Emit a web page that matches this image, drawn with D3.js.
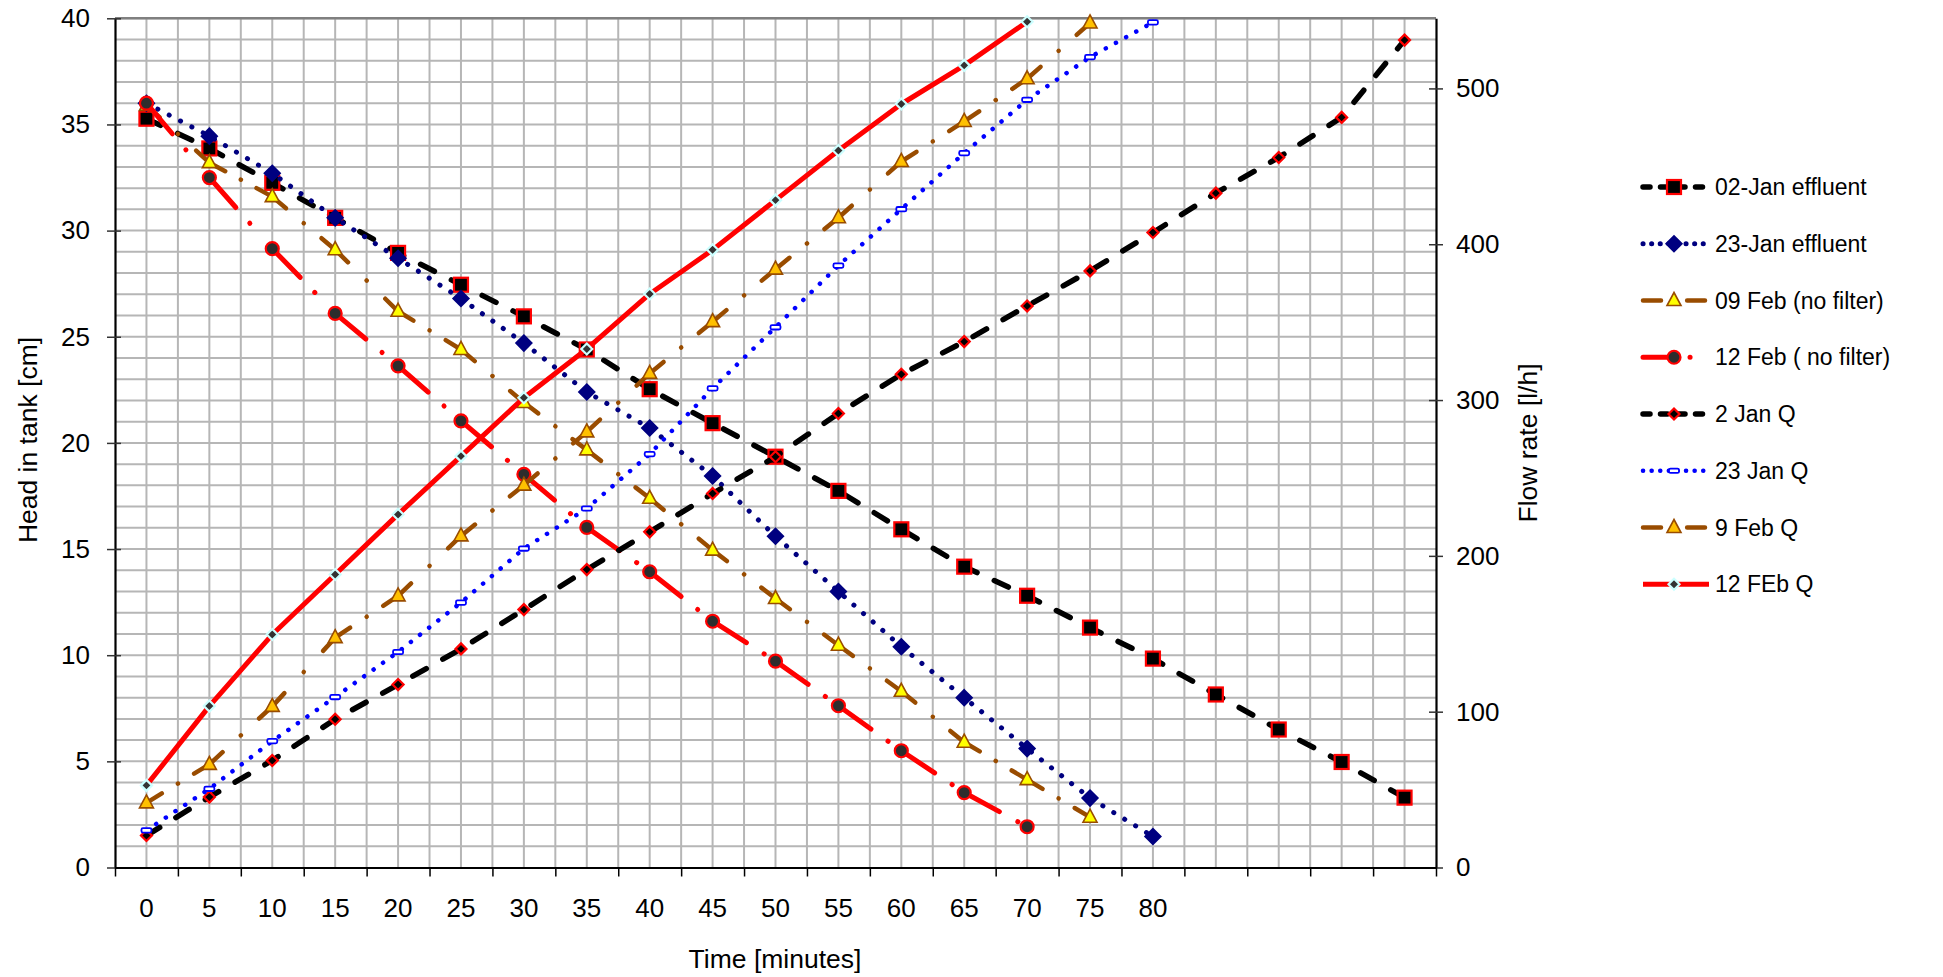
<!DOCTYPE html>
<html>
<head>
<meta charset="utf-8">
<script src="https://cdn.jsdelivr.net/npm/d3@7"></script>
<style>
  body { margin:0; background:#ffffff; }
  text { font-family:"Liberation Sans", Arial, sans-serif; fill:#000000; }
</style>
</head>
<body>
<div id="chart"></div>
<script>
// category labels of the time axis (last four categories carry no label)
var timeLabels = ["0","5","10","15","20","25","30","35","40","45","50","55","60","65","70","75","80","","","",""];

// head in tank [cm] (left axis)
var jan02Effluent = [35.27,33.87,32.25,30.6,28.95,27.45,25.96,24.4,22.53,20.93,19.35,17.74,15.93,14.17,12.8,11.3,9.84,8.15,6.5,4.97,3.29];
var jan23Effluent = [36.0,34.45,32.7,30.6,28.7,26.8,24.7,22.4,20.7,18.44,15.6,13.0,10.4,8.0,5.6,3.27,1.46];
var feb09NoFilter = [35.9,33.2,31.6,29.1,26.2,24.4,21.9,19.67,17.39,14.95,12.67,10.47,8.3,5.9,4.14,2.37];
var feb12NoFilter = [36.0,32.5,29.15,26.1,23.63,21.04,18.52,16.02,13.93,11.6,9.72,7.62,5.5,3.53,1.92];

// flow rate [l/h] (right axis)
var jan02Q = [20.5,45.2,68.7,95.1,117.4,140.3,165.5,191.2,215.4,240,263.6,291.4,316.5,337.5,360.4,382.9,407.5,432.8,455.7,481.4,531];
var jan23Q = [23.8,50.5,81.1,109.4,138.3,170,204.7,230.4,265.3,307.5,346.7,386.3,422.5,458.5,492.7,520.1,542.4];
var feb09Q = [41.5,66.2,103.4,147.5,174.3,212.8,245.4,279.6,317.1,350.3,384,417,453.1,478.8,506.2,542];
var feb12Q = [52.7,103.6,149.5,188,226.6,264,301.5,332.8,368.1,396.4,428.3,460.2,490,514.8,542.8];

var leftTicks = [0,5,10,15,20,25,30,35,40];
var rightTicks = [0,100,200,300,400,500];

var width = 1943, height = 977;
var plotLeft = 115, plotRight = 1436, plotTop = 18.3, plotBottom = 867.5;

var svg = d3.select("#chart").append("svg")
  .attr("width", width)
  .attr("height", height);

var x = d3.scaleBand().domain(d3.range(timeLabels.length)).range([plotLeft, plotRight]);
var xc = function(i) { return x(i) + x.bandwidth() / 2; };
// continuous scale over category boundaries (ticks + gridlines)
var xb = d3.scaleLinear().domain([0, timeLabels.length]).range([plotLeft, plotRight]);
var yLeft = d3.scaleLinear().domain([0, 40]).range([plotBottom, plotTop]);
var yRight = d3.scaleLinear().domain([0, 545]).range([plotBottom, plotTop]);

// brown long-dash-dot: dash around each point, a dot half way
function brownDash(L) {
  var d = 18, g = Math.max(L / 2 - d, 2);
  return [d, g, 0.1, g, d + 60].join(" ");
}
function redDash(L) {
  return "40 21 0.1 1000";
}

var seriesList = [
  {name:"02-Jan effluent", values:jan02Effluent, y:yLeft, color:"#000000", width:5.5, dash:"15.5 19", legendDash:"7 10.5", marker:"square", fill:"#000000", mstroke:"#ff0000"},
  {name:"23-Jan effluent", values:jan23Effluent, y:yLeft, color:"#000080", width:5, dash:"0.1 12.7", legendDash:"0.1 8.5", marker:"diamond", fill:"#000080", mstroke:"#000080"},
  {name:"09 Feb (no filter)", values:feb09NoFilter, y:yLeft, color:"#994c00", width:4.5, segDash:brownDash, marker:"triangle", fill:"#ffff00", mstroke:"#994c00"},
  {name:"12 Feb ( no filter)", values:feb12NoFilter, y:yLeft, color:"#ff0000", width:5, segDash:redDash, legendDash:"31 16 0.1 100", marker:"circle", fill:"#2d2d2d", mstroke:"#ff0000"},
  {name:"2 Jan Q", values:jan02Q, y:yRight, color:"#000000", width:5.5, dash:"15.5 19", legendDash:"7 10.5", marker:"smallDiamond", fill:"#000000", mstroke:"#ff0000"},
  {name:"23 Jan Q", values:jan23Q, y:yRight, color:"#0000ff", width:4.5, dash:"0.1 11.5", legendDash:"0.1 8.5", marker:"bar", fill:"#ffffff", mstroke:"#0000ff"},
  {name:"9 Feb Q", values:feb09Q, y:yRight, color:"#994c00", width:4.5, segDash:brownDash, marker:"triangle", fill:"#ffc000", mstroke:"#994c00"},
  {name:"12 FEb Q", values:feb12Q, y:yRight, color:"#ff0000", width:5, dash:null, marker:"smallDiamond", fill:"#333333", mstroke:"#ccffff"}
];

// ---- gridlines
var grid = svg.append("g").attr("class", "grid");
grid.selectAll(".hgrid")
  .data(d3.range(1, 41))
  .enter().append("line")
  .attr("x1", plotLeft).attr("x2", plotRight)
  .attr("y1", function(d) { return yLeft(d); })
  .attr("y2", function(d) { return yLeft(d); })
  .style("stroke", "#b6b6b6").style("stroke-width", 2);
grid.selectAll(".vgrid")
  .data(d3.range(1, timeLabels.length * 2))
  .enter().append("line")
  .attr("x1", function(d) { return xb(d / 2); })
  .attr("x2", function(d) { return xb(d / 2); })
  .attr("y1", plotTop).attr("y2", plotBottom)
  .style("stroke", "#b6b6b6").style("stroke-width", 2);

// top border of plot area
svg.append("line")
  .attr("x1", plotLeft).attr("x2", plotRight)
  .attr("y1", plotTop).attr("y2", plotTop)
  .style("stroke", "#808080").style("stroke-width", 2.5);

// ---- axes
var fontSize = "26px";

var leftAxis = svg.append("g")
  .attr("transform", "translate(" + plotLeft + ",0)")
  .call(d3.axisLeft(yLeft).tickValues(leftTicks).tickSize(8).tickPadding(17).tickSizeOuter(0));
leftAxis.selectAll(".tick line").attr("x1", 6).attr("x2", -8).style("stroke", "#333").style("stroke-width", 1.5);

var rightAxis = svg.append("g")
  .attr("transform", "translate(" + plotRight + ",0)")
  .call(d3.axisRight(yRight).tickValues(rightTicks).tickSize(7).tickPadding(13).tickSizeOuter(0));
rightAxis.selectAll(".tick line").attr("x1", -7).attr("x2", 7).style("stroke", "#333").style("stroke-width", 1.5);

var bottomTicks = svg.append("g")
  .attr("transform", "translate(0," + plotBottom + ")")
  .call(d3.axisBottom(xb).tickValues(d3.range(0, timeLabels.length + 1)).tickFormat("").tickSize(9).tickSizeOuter(0));
bottomTicks.selectAll(".tick line").style("stroke", "#000").style("stroke-width", 1.5);

var bottomAxis = svg.append("g")
  .attr("transform", "translate(0," + plotBottom + ")")
  .call(d3.axisBottom(x).tickFormat(function(i) { return timeLabels[i]; }).tickSize(0).tickPadding(31).tickSizeOuter(0));

[leftAxis, rightAxis, bottomTicks, bottomAxis].forEach(function(a) {
  a.selectAll("text").style("font-size", fontSize).style("font-family", "Liberation Sans, Arial, sans-serif").attr("fill", "#000");
  a.select(".domain").style("stroke", "#000").style("stroke-width", 2.2);
});

// axis titles
svg.append("text")
  .attr("transform", "translate(28,440) rotate(-90)")
  .attr("text-anchor", "middle").attr("dominant-baseline", "central")
  .style("font-size", "26.5px")
  .text("Head in tank [cm]");
svg.append("text")
  .attr("transform", "translate(1528,443) rotate(-90)")
  .attr("text-anchor", "middle").attr("dominant-baseline", "central")
  .style("font-size", "26.5px")
  .text("Flow rate [l/h]");
svg.append("text")
  .attr("x", 775).attr("y", 959)
  .attr("text-anchor", "middle").attr("dominant-baseline", "central")
  .style("font-size", "26.5px")
  .text("Time [minutes]");

// ---- markers
function drawMarker(g, type, cx, cy, s) {
  var m;
  if (type == "square") {
    m = g.append("rect").attr("x", cx - 7).attr("y", cy - 7).attr("width", 14).attr("height", 14);
  } else if (type == "diamond") {
    m = g.append("path").attr("d", "M" + cx + "," + (cy - 7.5) + "L" + (cx + 7.5) + "," + cy + "L" + cx + "," + (cy + 7.5) + "L" + (cx - 7.5) + "," + cy + "Z");
  } else if (type == "smallDiamond") {
    m = g.append("path").attr("d", "M" + cx + "," + (cy - 5.5) + "L" + (cx + 5.5) + "," + cy + "L" + cx + "," + (cy + 5.5) + "L" + (cx - 5.5) + "," + cy + "Z");
  } else if (type == "triangle") {
    m = g.append("path").attr("d", "M" + cx + "," + (cy - 8) + "L" + (cx + 7) + "," + (cy + 5) + "L" + (cx - 7) + "," + (cy + 5) + "Z");
  } else if (type == "circle") {
    m = g.append("circle").attr("cx", cx).attr("cy", cy).attr("r", 6.5);
  } else if (type == "bar") {
    m = g.append("rect").attr("x", cx - 5).attr("y", cy - 2.2).attr("width", 10).attr("height", 4.4).attr("rx", 1.5);
  }
  m.style("fill", s.fill).style("stroke", s.mstroke)
    .style("stroke-width", type == "bar" ? 1.8 : (type == "triangle" ? 1.6 : 2.2));
}

// ---- series
var plot = svg.append("g").attr("class", "series");
seriesList.forEach(function(s) {
  var g = plot.append("g");
  var pts = s.values.map(function(v, i) { return [xc(i), s.y(v)]; });
  if (s.segDash) {
    // pattern restarts at every data point
    for (var i = 0; i < pts.length - 1; i++) {
      var L = Math.hypot(pts[i + 1][0] - pts[i][0], pts[i + 1][1] - pts[i][1]);
      g.append("path")
        .attr("d", d3.line()([pts[i], pts[i + 1]]))
        .style("fill", "none").style("stroke", s.color)
        .style("stroke-width", s.width).style("stroke-linecap", "round")
        .style("stroke-dasharray", s.segDash(L));
    }
  } else {
    g.append("path")
      .attr("d", d3.line()(pts))
      .style("fill", "none").style("stroke", s.color)
      .style("stroke-width", s.width)
      .style("stroke-linecap", s.dash ? "round" : "butt")
      .style("stroke-linejoin", "round")
      .style("stroke-dasharray", s.dash);
  }
  pts.forEach(function(p) { drawMarker(g, s.marker, p[0], p[1], s); });
});

// ---- legend
var legend = svg.append("g").attr("class", "legend");
seriesList.forEach(function(s, i) {
  var ly = 187 + i * 56.75;
  var g = legend.append("g");
  var x1 = 1643, x2 = (s.dash === null) ? 1709 : 1705;
  var dash = s.legendDash || (s.segDash ? s.segDash(x2 - x1) : s.dash);
  g.append("line")
    .attr("x1", x1).attr("x2", x2).attr("y1", ly).attr("y2", ly)
    .style("stroke", s.color).style("stroke-width", s.width)
    .style("stroke-linecap", s.dash === null ? "butt" : "round")
    .style("stroke-dasharray", dash);
  drawMarker(g, s.marker, 1674, ly, s);
  g.append("text")
    .attr("x", 1715).attr("y", ly)
    .attr("dominant-baseline", "central")
    .style("font-size", "23px")
    .text(s.name);
});
</script>
</body>
</html>
